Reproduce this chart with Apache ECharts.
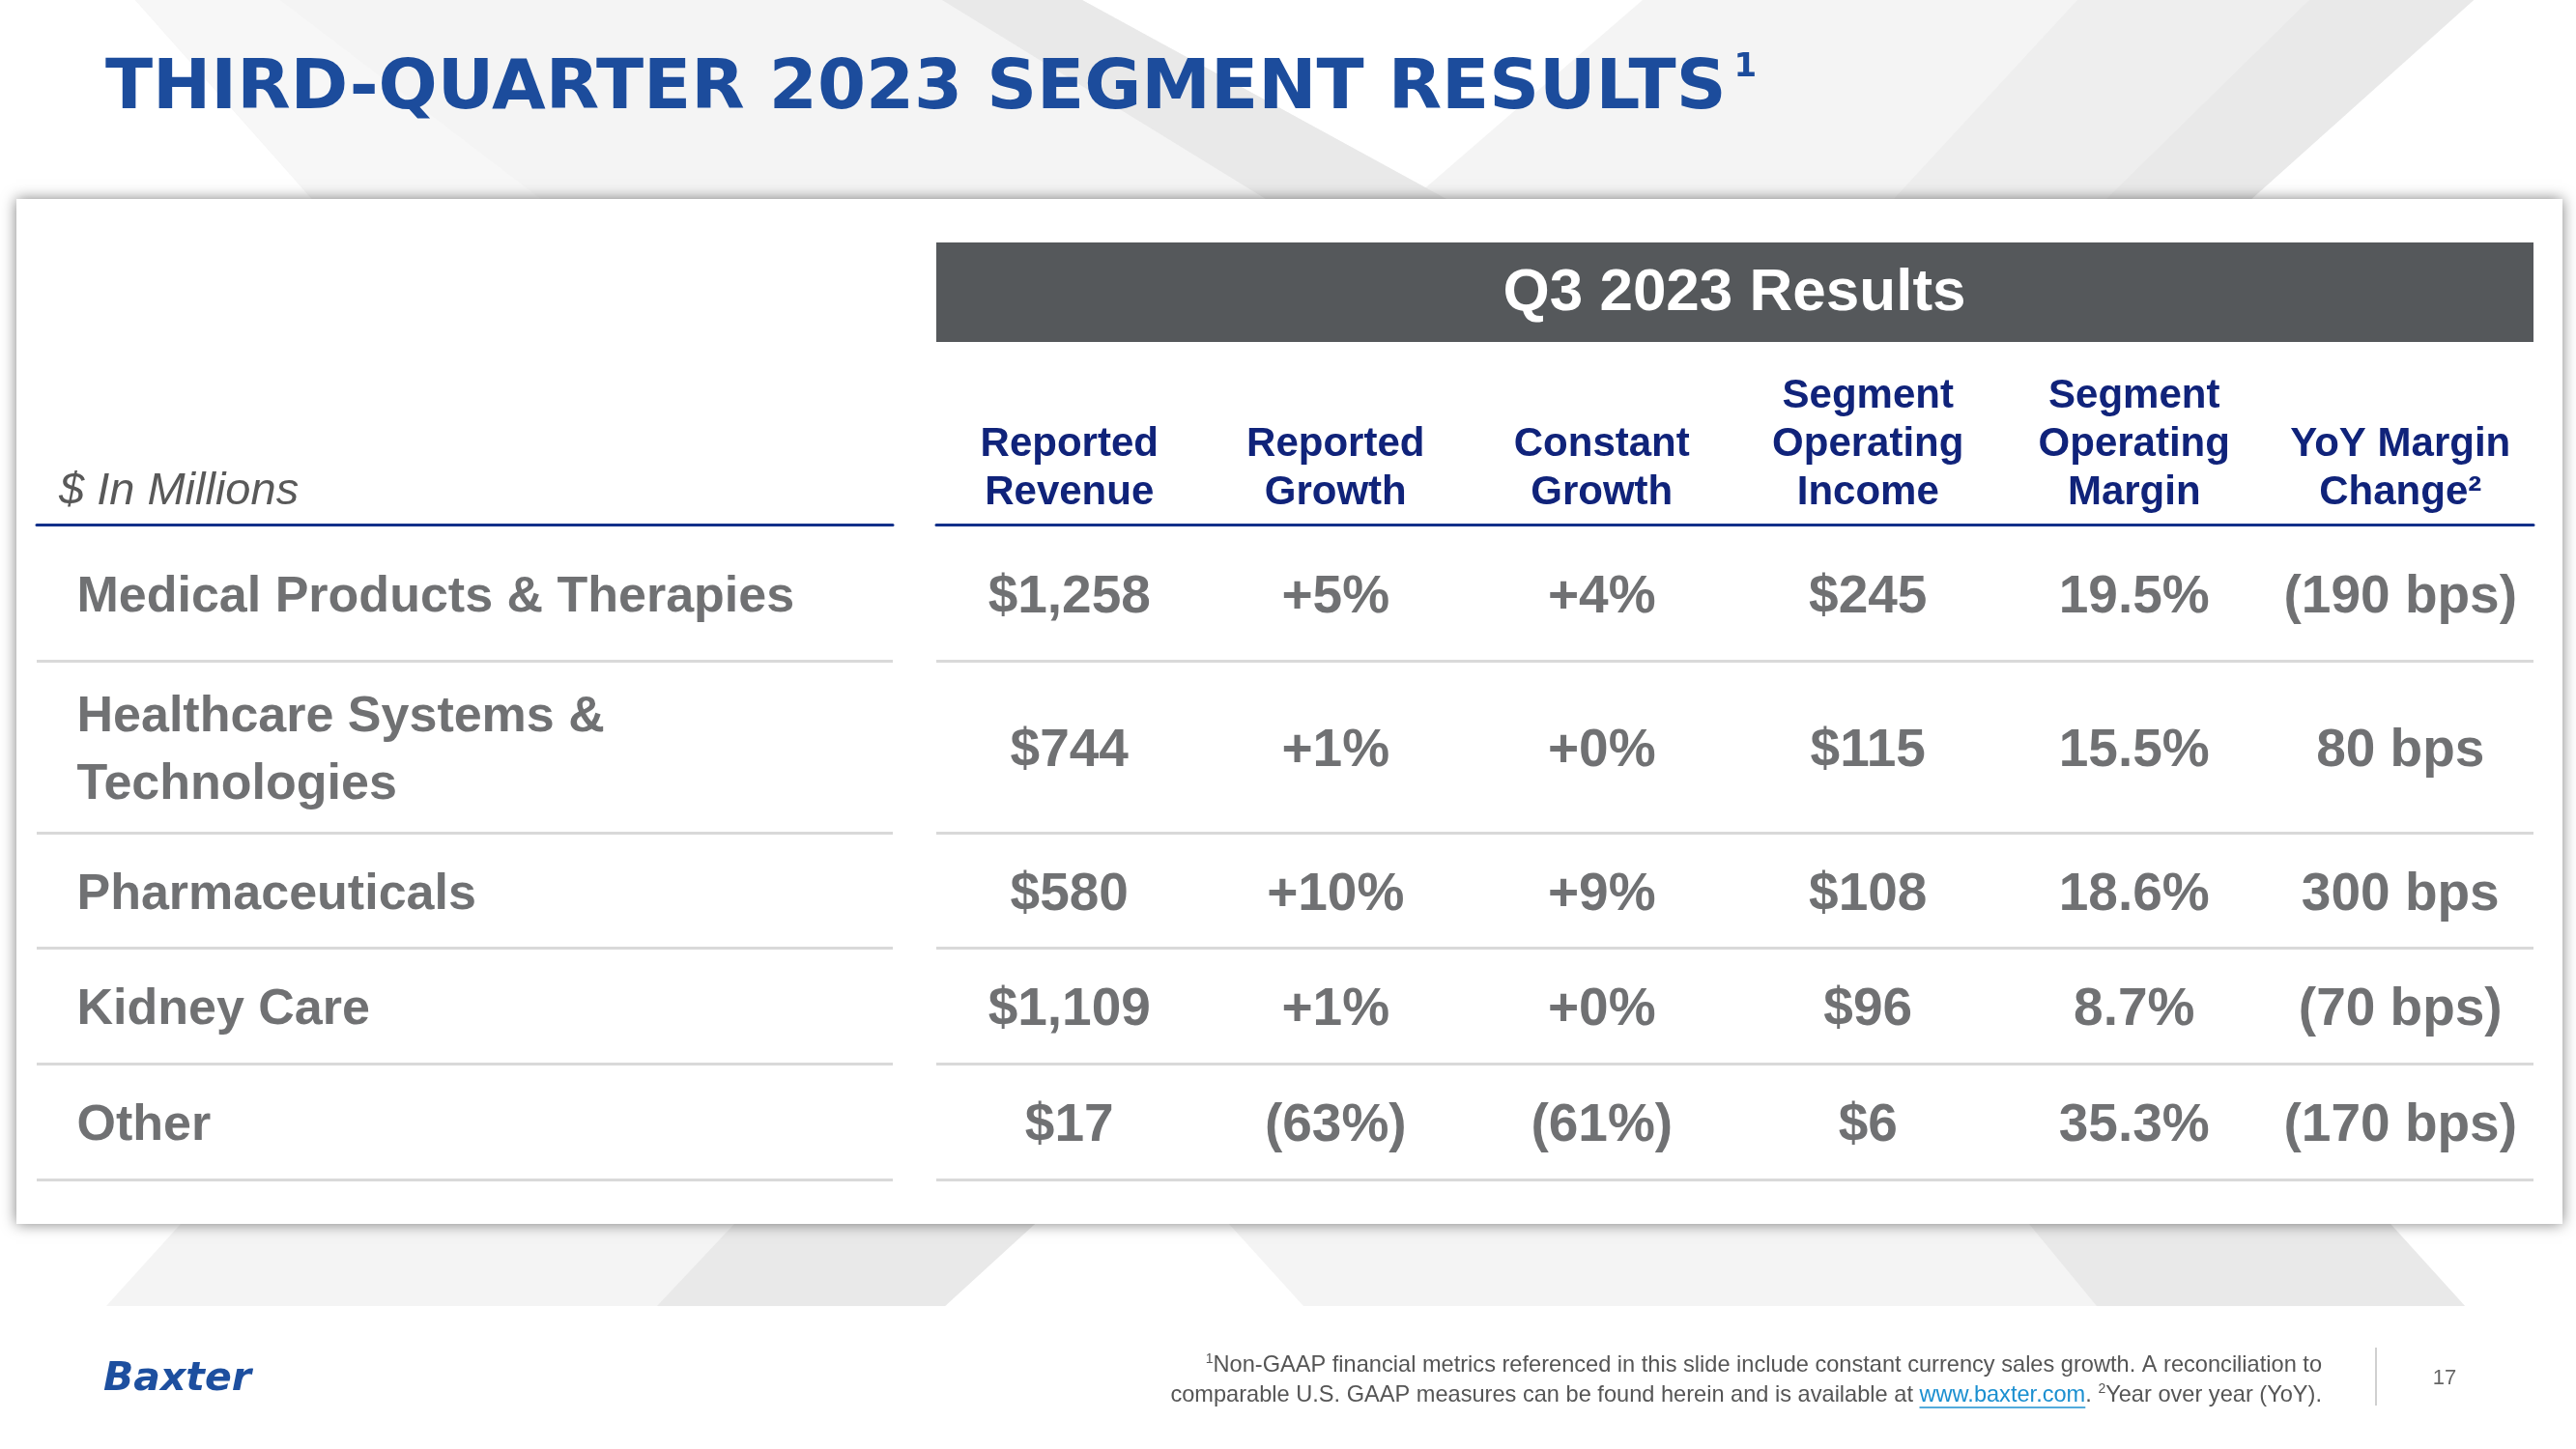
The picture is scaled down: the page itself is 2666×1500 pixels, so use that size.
<!DOCTYPE html>
<html>
<head>
<meta charset="utf-8">
<script src="https://cdn.jsdelivr.net/npm/echarts@6/dist/echarts.min.js"></script>
<style>
html, body { margin: 0; padding: 0; background: #ffffff; }
#main { width: 2666px; height: 1500px; }
</style>
</head>
<body>
<div id="main"></div>
<script>
// ---------- DATA ----------
const segments = ['Medical Products & Therapies', 'Healthcare Systems &\nTechnologies', 'Pharmaceuticals', 'Kidney Care', 'Other'];
const columnHeaders = ['Reported\nRevenue', 'Reported\nGrowth', 'Constant\nGrowth', 'Segment\nOperating\nIncome', 'Segment\nOperating\nMargin', 'YoY Margin\nChange\u00B2'];
const reportedRevenue = [1258, 744, 580, 1109, 17];      // $ millions
const reportedGrowth = [5, 1, 10, 1, -63];               // %
const constantGrowth = [4, 0, 9, 0, -61];                // %
const operatingIncome = [245, 115, 108, 96, 6];          // $ millions
const operatingMargin = [19.5, 15.5, 18.6, 8.7, 35.3];   // %
const marginChangeBps = [-190, 80, 300, -70, -170];      // bps

// ---------- LAYOUT (not data) ----------
const rowHeights = [141, 178, 119, 120, 120];
const rowCenters = [];
const rowBottoms = [];
let acc = 0;
rowHeights.forEach(h => { rowCenters.push(acc + h / 2 + 5); acc += h; rowBottoms.push(acc); });
const tableHeight = acc;

// ---------- FORMATTERS ----------
const fmtMoney = v => '$' + v.toLocaleString('en-US');
const fmtGrowth = v => v < 0 ? '(' + Math.abs(v) + '%)' : '+' + v + '%';
const fmtPct = v => v.toFixed(1) + '%';
const fmtBps = v => v < 0 ? '(' + Math.abs(v) + ' bps)' : v + ' bps';

const metrics = [reportedRevenue, reportedGrowth, constantGrowth, operatingIncome, operatingMargin, marginChangeBps];
const formatters = [fmtMoney, fmtGrowth, fmtGrowth, fmtMoney, fmtPct, fmtBps];

const NAVY = '#10237a';
const BLUE_LINE = '#12308a';
const GREY_TEXT = '#4c4e50';
const SEP = '#d9d9d9';
const FONT = '"Liberation Sans", Arial, sans-serif';

const sepMarkLine = {
  silent: true,
  symbol: ['none', 'none'],
  label: { show: false },
  lineStyle: { color: SEP, width: 3, type: 'solid' },
  emphasis: { disabled: true },
  data: rowBottoms.map(b => ({ yAxis: b }))
};

const series = [];
series.push({
  type: 'scatter',
  xAxisIndex: 0, yAxisIndex: 0,
  symbolSize: 1,
  itemStyle: { color: 'rgba(0,0,0,0)' },
  silent: true,
  data: segments.map((s, i) => [0, rowCenters[i], s]),
  label: {
    show: true, position: 'right', distance: 41,
    formatter: p => p.value[2],
    fontFamily: FONT, fontWeight: 'bold', fontSize: 52, color: GREY_TEXT,
    lineHeight: 70, align: 'left'
  },
  markLine: sepMarkLine
});
metrics.forEach((arr, c) => {
  series.push({
    type: 'scatter',
    xAxisIndex: 1, yAxisIndex: 1,
    symbolSize: 1,
    itemStyle: { color: 'rgba(0,0,0,0)' },
    silent: true,
    data: arr.map((v, i) => [columnHeaders[c], rowCenters[i], v]),
    label: {
      show: true, position: 'inside',
      formatter: p => formatters[c](p.value[2]),
      fontFamily: FONT, fontWeight: 'bold', fontSize: 55, color: GREY_TEXT
    },
    markLine: c === 0 ? sepMarkLine : undefined
  });
});

// footnote underline measurement
const mctx = document.createElement('canvas').getContext('2d');
const FOOT_SIZE = 23.6;
const SUP_SIZE = 14;
function mw(t, size) { mctx.font = (size || FOOT_SIZE) + 'px "Liberation Sans"'; return mctx.measureText(t).width; }
const footRight = 2403;
const afterLink = mw('. ') + mw('2', SUP_SIZE) + mw('Year over year (YoY).');
const linkEnd = footRight - afterLink;
const linkStart = linkEnd - mw('www.baxter.com');

const bgGrey1 = '#f4f4f4', bgGrey2 = '#eeeeee', bgGrey3 = '#e9e9e9';
const graphics = [
  // background chevron stripes (decoration)
  { type: 'polygon', z: -100, shape: { points: [[140, 0], [1120, 0], [1497, 206], [323, 206]] }, style: { fill: bgGrey1 } },
  { type: 'polygon', z: -99, shape: { points: [[140, 0], [290, 0], [560, 206], [323, 206]] }, style: { fill: '#f7f7f7' } },
  { type: 'polygon', z: -99, shape: { points: [[975, 0], [1120, 0], [1497, 206], [1310, 206]] }, style: { fill: bgGrey3 } },
  { type: 'polygon', z: -100, shape: { points: [[1700, 0], [2560, 0], [2330, 206], [1462, 206]] }, style: { fill: bgGrey1 } },
  { type: 'polygon', z: -99, shape: { points: [[2150, 0], [2560, 0], [2330, 206], [1960, 206]] }, style: { fill: bgGrey2 } },
  { type: 'polygon', z: -99, shape: { points: [[2390, 0], [2560, 0], [2330, 206], [2180, 206]] }, style: { fill: bgGrey3 } },
  { type: 'polygon', z: -100, shape: { points: [[187, 1267], [1071, 1267], [978, 1352], [110, 1352]] }, style: { fill: bgGrey1 } },
  { type: 'polygon', z: -99, shape: { points: [[760, 1267], [1071, 1267], [978, 1352], [680, 1352]] }, style: { fill: bgGrey3 } },
  { type: 'polygon', z: -100, shape: { points: [[1272, 1267], [2474, 1267], [2551, 1352], [1349, 1352]] }, style: { fill: bgGrey1 } },
  { type: 'polygon', z: -99, shape: { points: [[2100, 1267], [2474, 1267], [2551, 1352], [2170, 1352]] }, style: { fill: bgGrey3 } },
  // card
  { type: 'rect', z: -50, shape: { x: 17, y: 206, width: 2635, height: 1061 }, style: { fill: '#ffffff', shadowBlur: 14, shadowColor: 'rgba(0,0,0,0.5)' } },
  // header band
  { type: 'rect', z: -10, shape: { x: 969, y: 251, width: 1653, height: 103 }, style: { fill: '#55585b' } },
  { type: 'text', z: -9, x: 1795, y: 304, style: { text: 'Q3 2023 Results', fill: '#ffffff', font: 'bold 62px ' + FONT, align: 'center', verticalAlign: 'middle' } },
  // $ In Millions
  { type: 'text', x: 61, y: 509, style: { text: '$ In Millions', fill: '#595959', font: 'italic 47px ' + FONT, align: 'left', verticalAlign: 'middle' } },
  // logo
  { type: 'text', x: 107, y: 1428, style: { text: 'Baxter', fill: '#1d4f9f', font: 'italic bold 41px "DejaVu Sans", sans-serif', align: 'left', verticalAlign: 'middle' } },
  // footnotes
  { type: 'text', x: footRight, y: 1413, style: {
      text: '{sup|1}Non-GAAP financial metrics referenced in this slide include constant currency sales growth. A reconciliation to',
      align: 'right', verticalAlign: 'middle', fill: '#555555', font: FOOT_SIZE + 'px "Liberation Sans"',
      rich: { sup: { fontSize: SUP_SIZE, fontFamily: 'Liberation Sans', fill: '#555555', verticalAlign: 'top', lineHeight: 26 } }
  } },
  { type: 'text', x: footRight, y: 1444, style: {
      text: 'comparable U.S. GAAP measures can be found herein and is available at {link|www.baxter.com}. {sup|2}Year over year (YoY).',
      align: 'right', verticalAlign: 'middle', fill: '#555555', font: FOOT_SIZE + 'px "Liberation Sans"',
      rich: {
        sup: { fontSize: SUP_SIZE, fontFamily: 'Liberation Sans', fill: '#555555', verticalAlign: 'top', lineHeight: 26 },
        link: { fontSize: FOOT_SIZE, fontFamily: 'Liberation Sans', fill: '#1a8fd0' }
      }
  } },
  { type: 'line', shape: { x1: linkStart, y1: 1457, x2: linkEnd, y2: 1457 }, style: { stroke: '#1a8fd0', lineWidth: 1.5 } },
  { type: 'line', shape: { x1: 2459, y1: 1395, x2: 2459, y2: 1455 }, style: { stroke: '#c0c0c0', lineWidth: 1.5 } },
  { type: 'text', x: 2530, y: 1427, style: { text: '17', fill: '#666666', font: '22px "Liberation Sans"', align: 'center', verticalAlign: 'middle' } }
];

const axisLineStyle = { show: true, onZero: false, lineStyle: { color: BLUE_LINE, width: 3 } };

const option = {
  backgroundColor: '#ffffff',
  animation: false,
  title: {
    left: 104, top: 48,
    text: '{t|THIRD-QUARTER 2023 SEGMENT RESULTS}{s|1}',
    textStyle: {
      rich: {
        t: { fontFamily: '"DejaVu Sans", sans-serif', fontWeight: 'bold', fontSize: 72, color: '#1c4c9c', lineHeight: 80 },
        s: { fontFamily: '"DejaVu Sans", sans-serif', fontWeight: 'bold', fontSize: 34, color: '#1c4c9c', lineHeight: 44, verticalAlign: 'top', padding: [0, 0, 0, 8] }
      }
    }
  },
  grid: [
    { left: 38, top: 543, width: 886, height: tableHeight },
    { left: 969, top: 543, width: 1653, height: tableHeight }
  ],
  xAxis: [
    { type: 'value', gridIndex: 0, position: 'top', min: 0, max: 1,
      axisLine: axisLineStyle, axisTick: { show: false }, axisLabel: { show: false }, splitLine: { show: false } },
    { type: 'category', gridIndex: 1, position: 'top', data: columnHeaders,
      axisLine: axisLineStyle, axisTick: { show: false }, splitLine: { show: false },
      axisLabel: { interval: 0, margin: 8, color: NAVY, fontFamily: FONT, fontWeight: 'bold', fontSize: 42, lineHeight: 50, align: 'center' } }
  ],
  yAxis: [
    { type: 'value', gridIndex: 0, min: 0, max: tableHeight, inverse: true, show: false },
    { type: 'value', gridIndex: 1, min: 0, max: tableHeight, inverse: true, show: false }
  ],
  graphic: graphics,
  series: series
};

const chart = echarts.init(document.getElementById('main'));
chart.setOption(option);
</script>
</body>
</html>
